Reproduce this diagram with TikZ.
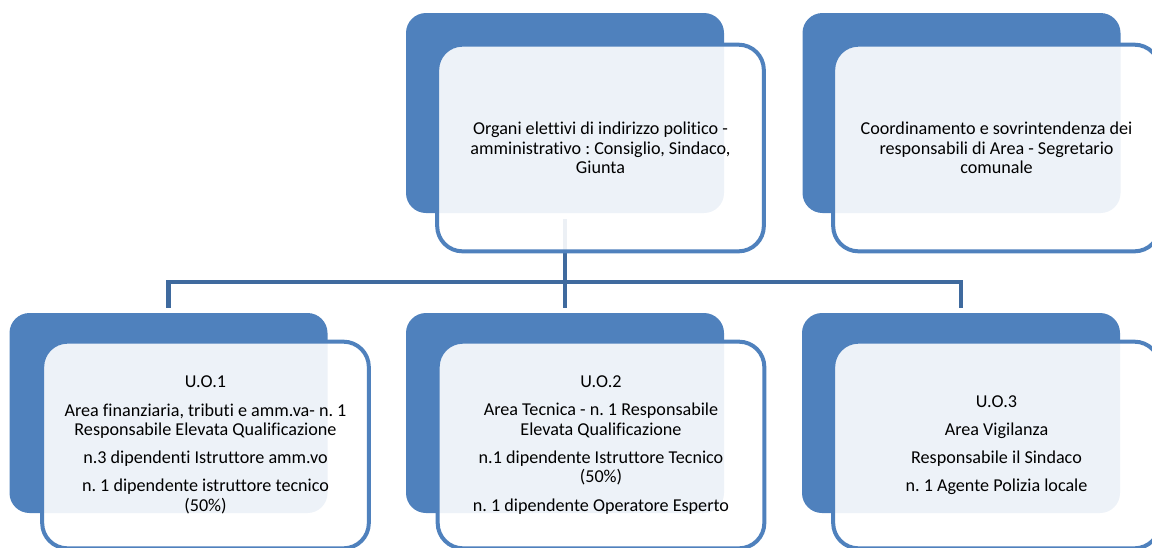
\documentclass[tikz,border=0pt]{standalone}
\usepackage{fontspec}
\setmainfont{Carlito}[Ligatures=NoCommon]
\usepackage{xcolor}
\usepackage{tikz}

\definecolor{accentblue}{HTML}{4F81BD}
\definecolor{linkblue}{HTML}{3F6A9E}
\frenchspacing

\begin{document}
\begin{tikzpicture}[x=0.75pt, y=-0.75pt,
        backbox/.style={fill=accentblue, rounded corners=15pt, minimum width=238.5pt, minimum height=150pt, inner sep=0pt},
        frontbox/.style={draw=accentblue, line width=3pt, fill=white, fill opacity=0.9, text opacity=1, rounded corners=19pt, minimum width=245pt, minimum height=155pt, align=center, font=\fontsize{13.6}{14.6}\selectfont},
        link/.style={draw=linkblue, line width=3.5pt}]
        \useasboundingbox (0,0) rectangle (1152,547);

        % Back panels
        \node[backbox] (organiback) at (565,113) {};
        \node[backbox] (segretback) at (961.5,113) {};
        \node[backbox] (uo1back) at (168.5,413) {};
        \node[backbox] (uo2back) at (565,413) {};
        \node[backbox] (uo3back) at (961,413) {};

        % Connectors
        \coordinate (bus) at (565,282);
        \draw[link] ([yshift=-4.5pt]organiback.south) -- ([yshift=3.75pt]uo2back.north);
        \draw[link] ([yshift=3.75pt]uo1back.north) |- (bus) -| ([yshift=3.75pt]uo3back.north);

        % Front boxes with text
        \node[frontbox] (organi) at (600.5,148) {Organi elettivi di indirizzo politico -\\amministrativo : Consiglio, Sindaco,\\Giunta};
        \node[frontbox] (segret) at (996.5,148) {Coordinamento e sovrintendenza dei\\responsabili di Area - Segretario\\comunale};
        \node[frontbox] (uo1) at (205.5,445) {U.O.1\\[6.5pt]Area finanziaria, tributi e amm.va- n. 1\\Responsabile Elevata Qualificazione\\[6.5pt]n.3 dipendenti Istruttore amm.vo\\[6.5pt]n. 1 dipendente istruttore tecnico\\(50\%)};
        \node[frontbox] (uo2) at (601,445) {U.O.2\\[6.5pt]Area Tecnica - n. 1 Responsabile\\Elevata Qualificazione\\[6.5pt]n.1 dipendente Istruttore Tecnico\\(50\%)\\[6.5pt]n. 1 dipendente Operatore Esperto};
        \node[frontbox] (uo3) at (996.5,445) {U.O.3\\[6.5pt]Area Vigilanza\\[6.5pt]Responsabile il Sindaco\\[6.5pt]n. 1 Agente Polizia locale};
    \end{tikzpicture}
\end{document}
